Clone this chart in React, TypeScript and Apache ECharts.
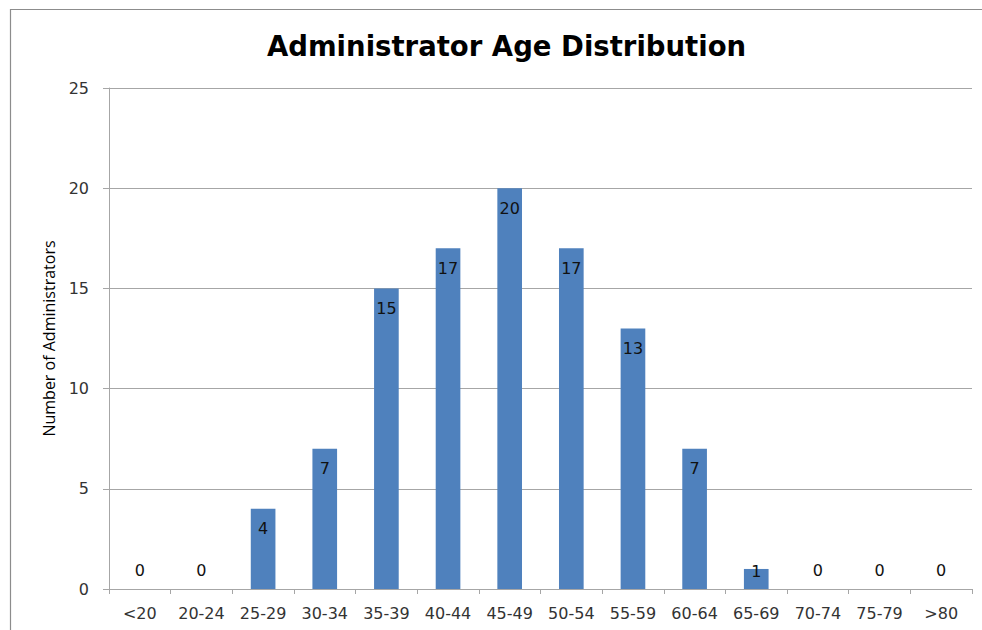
import React, { useEffect, useRef } from "react";
import * as echarts from "echarts";

const categories = ["<20", "20-24", "25-29", "30-34", "35-39", "40-44", "45-49", "50-54", "55-59", "60-64", "65-69", "70-74", "75-79", ">80"];
const counts = [0, 0, 4, 7, 15, 17, 20, 17, 13, 7, 1, 0, 0, 0];
const yTicks = { min: 0, max: 25, interval: 5 };
const titleText = "Administrator Age Distribution";
const yAxisName = "Number of Administrators";

export default function App() {
  const ref = useRef<HTMLDivElement>(null);
  useEffect(() => {
    document.body.style.margin = "0";
    const chart = echarts.init(ref.current!, null, { renderer: "svg" });
    const font = "'DejaVu Sans', 'Noto Sans', sans-serif";
    const data = counts.map((v) => {
      let label: any;
      if (v === 0) {
        label = { position: "top", distance: 11 };
      } else if (v === 1) {
        label = { position: "insideTop", distance: -5 };
      } else {
        label = { position: "insideTop", distance: 12 };
      }
      return { value: v, label };
    });
    chart.setOption({
      animation: false,
      backgroundColor: "#ffffff",
      title: {
        text: titleText,
        left: 262,
        top: 27,
        textStyle: { fontFamily: font, fontWeight: "bold", fontSize: 27.5, color: "#000000" },
      },
      graphic: [
        {
          type: "rect",
          shape: { x: 10.5, y: 9.5, width: 1100, height: 800 },
          style: { fill: "none", stroke: "#8c8c8c", lineWidth: 1.2 },
          silent: true,
          z: -1,
        },
      ],
      grid: { left: 109, right: 10, top: 88, bottom: 41, containLabel: false },
      xAxis: {
        type: "category",
        data: categories,
        axisLine: { lineStyle: { color: "#a6a6a6", width: 1 } },
        axisTick: { show: true, length: 5, lineStyle: { color: "#a6a6a6" } },
        axisLabel: { fontFamily: font, fontSize: 16, color: "#333333", margin: 16, interval: 0 },
        splitLine: { show: false },
      },
      yAxis: {
        type: "value",
        min: yTicks.min,
        max: yTicks.max,
        interval: yTicks.interval,
        name: yAxisName,
        nameLocation: "middle",
        nameRotate: 90,
        nameGap: 52,
        nameTextStyle: { fontFamily: "'Open Sans', sans-serif", fontSize: 16, color: "#000000" },
        axisLine: { show: true, lineStyle: { color: "#a6a6a6", width: 1 } },
        axisTick: { show: true, length: 6, lineStyle: { color: "#a6a6a6" } },
        axisLabel: { fontFamily: font, fontSize: 16, color: "#333333", margin: 20 },
        splitLine: { show: true, lineStyle: { color: "#a6a6a6", width: 1 } },
      },
      series: [
        {
          type: "bar",
          data,
          barWidth: "40%",
          itemStyle: { color: "#4f81bd" },
          label: {
            show: true,
            fontFamily: font,
            fontSize: 16,
            color: "#111111",
          },
        },
      ],
    });
    return () => chart.dispose();
  }, []);
  return <div ref={ref} style={{ width: 982, height: 630 }} />;
}
